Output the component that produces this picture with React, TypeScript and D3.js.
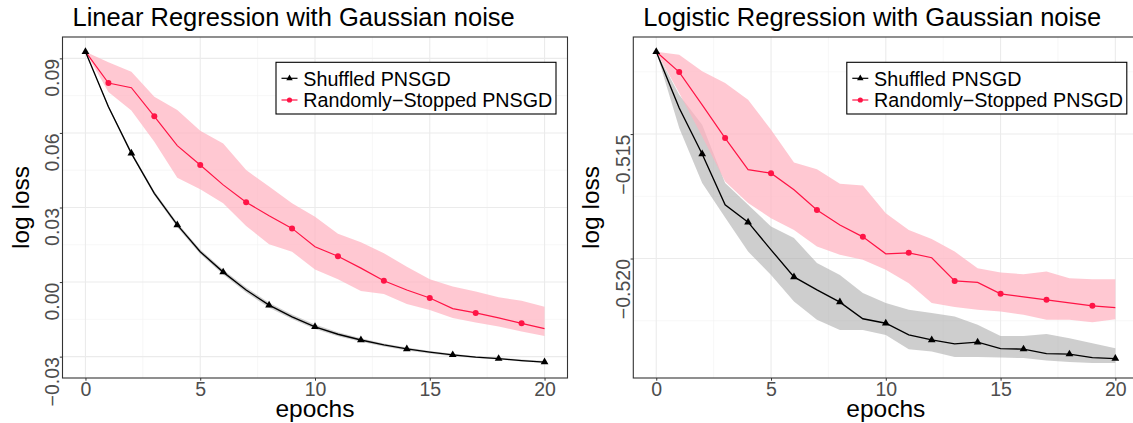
import React, { useEffect, useRef } from 'react'
import * as d3 from 'd3'

const epochs = [0, 1, 2, 3, 4, 5, 6, 7, 8, 9, 10, 11, 12, 13, 14, 15, 16, 17, 18, 19, 20]
const shuffledMarks = [0, 2, 4, 6, 8, 10, 12, 14, 16, 18, 20]
const stoppedMarks = [1, 3, 5, 7, 9, 11, 13, 15, 17, 19]
const xTicks = [0, 5, 10, 15, 20]
const xMinor = [2.5, 7.5, 12.5, 17.5]
const seriesNames = ['Shuffled PNSGD', 'Randomly\u2212Stopped PNSGD']

// linear regression panel
const linTitle = 'Linear Regression with Gaussian noise'
const linYTicks = [-0.03, 0, 0.03, 0.06, 0.09]
const linYMinor = [-0.015, 0.015, 0.045, 0.075]
const linShuffled = [0.0927, 0.0705, 0.0518, 0.0357, 0.0230, 0.0122, 0.0040, -0.0032, -0.0093, -0.0140, -0.0180, -0.0210, -0.0233, -0.0253, -0.0269, -0.0282, -0.0293, -0.0302, -0.0308, -0.0316, -0.0322]
const linShuffledHi = [0.0927, 0.0711, 0.0525, 0.0365, 0.0239, 0.0131, 0.0050, -0.0022, -0.0083, -0.0131, -0.0171, -0.0202, -0.0226, -0.0247, -0.0263, -0.0277, -0.0288, -0.0298, -0.0304, -0.0312, -0.0318]
const linShuffledLo = [0.0927, 0.0699, 0.0511, 0.0349, 0.0221, 0.0113, 0.0030, -0.0042, -0.0103, -0.0149, -0.0189, -0.0218, -0.0240, -0.0259, -0.0275, -0.0287, -0.0298, -0.0306, -0.0312, -0.0320, -0.0326]
const linStopped = [0.0927, 0.0801, 0.0782, 0.0667, 0.0549, 0.0471, 0.0391, 0.0321, 0.0267, 0.0216, 0.0142, 0.0104, 0.0056, 0.0005, -0.0032, -0.0064, -0.0107, -0.0124, -0.0144, -0.0166, -0.0187]
const linStoppedHi = [0.0927, 0.0884, 0.0846, 0.0746, 0.0692, 0.0609, 0.0558, 0.0451, 0.0384, 0.0317, 0.0263, 0.0194, 0.0160, 0.0116, 0.0062, 0.0011, -0.0018, -0.0038, -0.0061, -0.0075, -0.0099]
const linStoppedLo = [0.0927, 0.0765, 0.0690, 0.0565, 0.0420, 0.0373, 0.0317, 0.0226, 0.0152, 0.0122, 0.0051, 0.0011, -0.0036, -0.0048, -0.0088, -0.0112, -0.0145, -0.0163, -0.0179, -0.0199, -0.0217]

// logistic regression panel
const logTitle = 'Logistic Regression with Gaussian noise'
const logYTicks = [-0.52, -0.515]
const logYMinor = [-0.5225, -0.5175, -0.5125]
const logShuffled = [-0.51169, -0.51395, -0.5158, -0.51784, -0.51854, -0.51965, -0.52074, -0.52126, -0.52175, -0.52242, -0.5226, -0.52307, -0.52327, -0.52343, -0.52336, -0.52362, -0.52364, -0.52382, -0.52384, -0.52398, -0.52402]
const logShuffledHi = [-0.51169, -0.51342, -0.51463, -0.51697, -0.51784, -0.51871, -0.51918, -0.52018, -0.52066, -0.52139, -0.52179, -0.52206, -0.52219, -0.52233, -0.52266, -0.52311, -0.52311, -0.52303, -0.5232, -0.5234, -0.5236]
const logShuffledLo = [-0.51169, -0.51476, -0.51697, -0.51835, -0.51972, -0.52066, -0.52173, -0.52246, -0.52287, -0.52287, -0.52307, -0.52364, -0.52374, -0.52396, -0.52396, -0.52398, -0.524, -0.5241, -0.52416, -0.5242, -0.5242]
const logStopped = [-0.51169, -0.51251, -0.51383, -0.51516, -0.51643, -0.51657, -0.51724, -0.51805, -0.51865, -0.51913, -0.51981, -0.51977, -0.51997, -0.5209, -0.52096, -0.52142, -0.52154, -0.52166, -0.52178, -0.5219, -0.52197]
const logStoppedHi = [-0.51169, -0.51181, -0.51248, -0.51295, -0.51362, -0.51483, -0.51614, -0.51641, -0.517, -0.51707, -0.51818, -0.51885, -0.51922, -0.51972, -0.52039, -0.52056, -0.52063, -0.52052, -0.52079, -0.52083, -0.52083]
const logStoppedLo = [-0.51169, -0.51335, -0.5151, -0.51691, -0.51777, -0.51838, -0.51885, -0.51952, -0.51985, -0.52005, -0.52045, -0.52099, -0.52179, -0.52195, -0.52206, -0.52213, -0.52226, -0.52246, -0.52246, -0.52256, -0.52244]

const FONT = 'Liberation Sans, Arial, Helvetica, sans-serif'
const RED = '#FF1446'

function drawPanel(svg, p) {
    const top = 37, bottom = 378, width = 505
    const x = d3.scaleLinear().domain([-1, 21]).range([p.left, p.left + width])
    const y = d3.scaleLinear().domain(p.yDomain).range([bottom, top])
    const g = svg.append('g')

    // grid
    g.selectAll('.vminor').data(xMinor).enter().append('line')
        .attr('x1', d => x(d)).attr('x2', d => x(d)).attr('y1', top).attr('y2', bottom)
        .attr('stroke', '#F2F2F2').attr('stroke-width', 0.6)
    g.selectAll('.hminor').data(p.yMinor).enter().append('line')
        .attr('x1', p.left).attr('x2', p.left + width).attr('y1', d => y(d)).attr('y2', d => y(d))
        .attr('stroke', '#F2F2F2').attr('stroke-width', 0.6)
    g.selectAll('.vmajor').data(xTicks).enter().append('line')
        .attr('x1', d => x(d)).attr('x2', d => x(d)).attr('y1', top).attr('y2', bottom)
        .attr('stroke', '#EBEBEB').attr('stroke-width', 1.1)
    g.selectAll('.hmajor').data(p.yTicks).enter().append('line')
        .attr('x1', p.left).attr('x2', p.left + width).attr('y1', d => y(d)).attr('y2', d => y(d))
        .attr('stroke', '#EBEBEB').attr('stroke-width', 1.1)

    // bands
    const area = (lo, hi) => d3.area().x((d, i) => x(epochs[i])).y0((d, i) => y(lo[i])).y1((d, i) => y(hi[i]))(epochs)
    const clipId = 'clip' + Math.round(p.left)
    svg.append('clipPath').attr('id', clipId).append('rect')
        .attr('x', p.left).attr('y', top).attr('width', width).attr('height', bottom - top)
    const plot = g.append('g').attr('clip-path', 'url(#' + clipId + ')')
    plot.append('path').attr('d', area(p.blackLo, p.blackHi)).attr('fill', '#A6A6A6').attr('fill-opacity', 0.55)
    plot.append('path').attr('d', area(p.redLo, p.redHi)).attr('fill', '#FFB3C1').attr('fill-opacity', 0.72)

    // lines
    const line = vals => d3.line().x((d, i) => x(epochs[i])).y((d, i) => y(vals[i]))(epochs)
    plot.append('path').attr('d', line(p.red)).attr('fill', 'none').attr('stroke', RED).attr('stroke-width', 1.2)
    plot.append('path').attr('d', line(p.black)).attr('fill', 'none').attr('stroke', '#000').attr('stroke-width', 1.35)

    plot.selectAll('.rdot').data(stoppedMarks).enter().append('circle')
        .attr('cx', d => x(d)).attr('cy', d => y(p.red[d])).attr('r', 3)
        .attr('fill', RED)
    const tri = d3.symbol(d3.symbolTriangle, 26)
    plot.selectAll('.btri').data(shuffledMarks).enter().append('path')
        .attr('d', tri)
        .attr('transform', d => 'translate(' + x(d) + ',' + y(p.black[d]) + ')')
        .attr('fill', '#000')

    // border
    g.append('rect').attr('x', p.left).attr('y', top).attr('width', width).attr('height', bottom - top)
        .attr('fill', 'none').attr('stroke', '#333').attr('stroke-width', 1.1)

    // axes
    const xAxis = g.append('g').attr('transform', 'translate(0,' + bottom + ')')
        .call(d3.axisBottom(x).tickValues(xTicks).tickSize(2.7).tickPadding(1).tickFormat(d3.format('d')))
    xAxis.select('.domain').remove()
    xAxis.selectAll('line').attr('stroke', '#333')
    xAxis.selectAll('text').attr('fill', '#4D4D4D').attr('font-size', 19.5).attr('font-family', FONT)

    const yAxis = g.append('g').attr('transform', 'translate(' + p.left + ',0)')
        .call(d3.axisLeft(y).tickValues(p.yTicks).tickSize(2.7).tickFormat(d3.format(p.fmt)))
    yAxis.select('.domain').remove()
    yAxis.selectAll('line').attr('stroke', '#333')
    yAxis.selectAll('text')
        .attr('x', null).attr('dy', null)
        .attr('transform', 'translate(-3.8,0) rotate(-90)')
        .attr('text-anchor', 'end')
        .attr('fill', '#4D4D4D').attr('font-size', 19.5).attr('font-family', FONT)

    // titles
    svg.append('text').attr('x', p.left + 10).attr('y', 26)
        .attr('font-size', 25.5).attr('font-family', FONT).attr('fill', '#000')
        .text(p.title)
    svg.append('text').attr('x', p.left + width / 2).attr('y', 417)
        .attr('text-anchor', 'middle').attr('font-size', 24.5).attr('font-family', FONT)
        .text('epochs')
    svg.append('text')
        .attr('transform', 'translate(' + (p.left - 34) + ',' + ((top + bottom) / 2) + ') rotate(-90)')
        .attr('text-anchor', 'middle').attr('font-size', 24.5).attr('font-family', FONT)
        .text('log loss')

    // legend
    const lx = p.left + 213.5, ly = 62.3
    const lg = svg.append('g').attr('transform', 'translate(' + lx + ',' + ly + ')')
    lg.append('rect').attr('width', 280).attr('height', 51.7)
        .attr('fill', '#fff').attr('stroke', '#000').attr('stroke-width', 1.1)
    const keys = lg.selectAll('.key').data(seriesNames).enter().append('g')
        .attr('transform', (d, i) => 'translate(0,' + (i === 0 ? 16 : 37.7) + ')')
    keys.append('line').attr('x1', 5.5).attr('x2', 21.5).attr('y1', 0).attr('y2', 0)
        .attr('stroke', (d, i) => i === 0 ? '#000' : RED).attr('stroke-width', 1.2)
    keys.filter((d, i) => i === 0).append('path').attr('d', d3.symbol(d3.symbolTriangle, 18))
        .attr('transform', 'translate(13.5,0)').attr('fill', '#000')
    keys.filter((d, i) => i === 1).append('circle').attr('cx', 13.5).attr('r', 2.6).attr('fill', RED)
    keys.append('text').attr('x', 27.3).attr('y', 7.2)
        .attr('font-size', 19.7).attr('font-family', FONT).attr('fill', '#000')
        .text(d => d)
}

export default function App() {
    const ref = useRef(null)

    useEffect(() => {
        const svg = d3.select(ref.current)
        svg.selectAll('*').remove()
        drawPanel(svg, {
            title: linTitle, left: 62.5, yDomain: [-0.0386, 0.0986],
            yTicks: linYTicks, yMinor: linYMinor, fmt: '.2f',
            black: linShuffled, blackLo: linShuffledLo, blackHi: linShuffledHi,
            red: linStopped, redLo: linStoppedLo, redHi: linStoppedHi
        })
        drawPanel(svg, {
            title: logTitle, left: 633.3, yDomain: [-0.5248, -0.5111],
            yTicks: logYTicks, yMinor: logYMinor, fmt: '.3f',
            black: logShuffled, blackLo: logShuffledLo, blackHi: logShuffledHi,
            red: logStopped, redLo: logStoppedLo, redHi: logStoppedHi
        })
    }, [])

    return (
        <svg ref={ref} width={1133} height={423}
            style={{ position: 'absolute', left: 0, top: 0, background: '#fff' }} />
    )
}
